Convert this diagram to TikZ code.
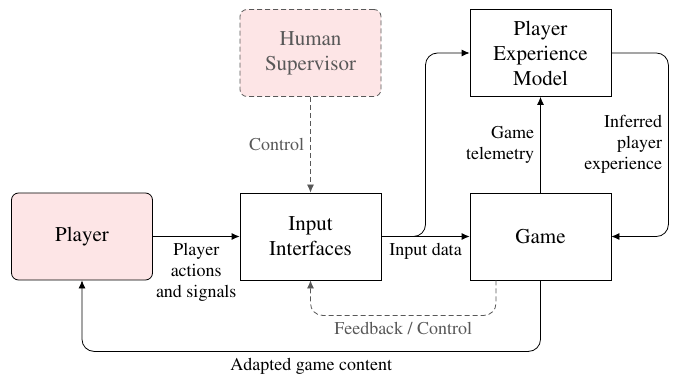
\documentclass[tikz,border=0pt]{standalone}
\usepackage[T1]{fontenc}
\usepackage{times}
\usetikzlibrary{arrows.meta}
\definecolor{playerpink}{RGB}{253,229,230}
\definecolor{supgray}{RGB}{88,88,88}
\tikzset{
    block/.style={draw, minimum width=141pt, minimum height=87pt, align=center, inner sep=4pt, font=\fontsize{21}{25}\selectfont},
    lbl/.style={align=center, inner sep=6pt, font=\fontsize{18}{21}\selectfont},
    flow/.style={-{Latex[length=8pt,width=7pt]}},
    sup/.style={draw=supgray, text=supgray, dash pattern=on 5pt off 3pt}
}
\begin{document}
\begin{tikzpicture}[x=1pt,y=1pt,line width=0.8pt]
        \useasboundingbox (0,0) rectangle (673,373);
        \node [block, rounded corners=7pt, fill=playerpink] (player) at (82,136.5) {Player};
        \node [block] (input) at (310.5,136.5) {Input\\Interfaces};
        \node [block] (game) at (540.5,136.5) {Game};
        \node [block, sup, rounded corners=7pt, fill=playerpink] (human) at (310.5,320) {Human\\Supervisor};
        \node [block] (pem) at (540.5,320) {Player\\Experience\\Model};
        \draw [flow] (player) -- node [lbl, below] {Player\\actions\\and signals} (input);
        \draw [flow] (input) -- node [lbl, below] {Input data} (game);
        \draw [flow, rounded corners=12pt] (input.east) -| (425.5,320) -- (pem.west);
        \draw [flow] (game) -- node [lbl, left, align=right] {Game\\telemetry} (pem);
        \draw [flow, rounded corners=12pt] (pem.east) -- ++(57,0) |- node [lbl, pos=0.25, left, align=right] {Inferred\\player\\experience} (game.east);
        \draw [flow, sup] (human) -- node [lbl, left, text=supgray] {Control} (input);
        \draw [flow, sup, rounded corners=12pt] ([xshift=-44.5pt]game.south) -- ++(0,-35) -| node [lbl, pos=0.25, below, text=supgray] {Feedback / Control} (input.south);
        % \draw [flow] (game.south) -- (player.south);
        \draw [flow, rounded corners=12pt] (game.south) -- ++(0,-71) -| node [lbl, pos=0.25, below] {Adapted game content} (player.south);
    \end{tikzpicture}
\end{document}
